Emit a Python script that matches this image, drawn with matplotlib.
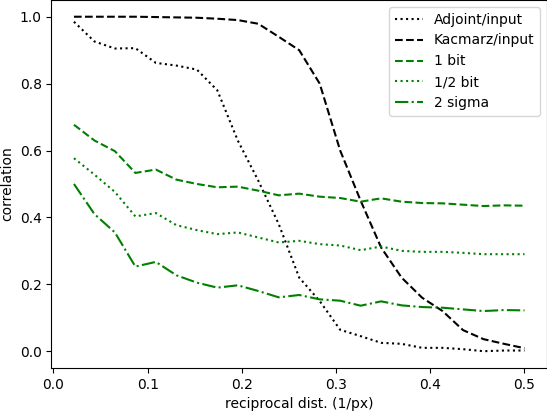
import numpy as np
import matplotlib
matplotlib.use("Agg")
import matplotlib.pyplot as plt

# reciprocal distance samples (1/px)
freq = np.arange(1, 24) / 46.0

adjoint = [0.985, 0.926, 0.905, 0.906, 0.862, 0.854, 0.842, 0.78, 0.63, 0.51,
           0.38, 0.22, 0.15, 0.064, 0.045, 0.025, 0.022, 0.01, 0.01, 0.006,
           0.0, 0.002, 0.002]
kacmarz = [1.0, 1.0, 1.0, 1.0, 0.999, 0.998, 0.997, 0.994, 0.99, 0.979,
           0.94, 0.90, 0.80, 0.60, 0.45, 0.31, 0.22, 0.16, 0.12, 0.063,
           0.036, 0.022, 0.009]
one_bit = [0.677, 0.63, 0.598, 0.533, 0.543, 0.513, 0.50, 0.49, 0.492, 0.48,
           0.466, 0.471, 0.462, 0.458, 0.447, 0.457, 0.447, 0.443, 0.442, 0.438,
           0.434, 0.436, 0.435]
half_bit = [0.577, 0.528, 0.476, 0.403, 0.413, 0.377, 0.362, 0.35, 0.355, 0.34,
            0.325, 0.33, 0.32, 0.316, 0.302, 0.313, 0.30, 0.297, 0.297, 0.294,
            0.29, 0.29, 0.29]
two_sigma = [0.50, 0.41, 0.355, 0.253, 0.267, 0.227, 0.205, 0.19, 0.197, 0.18,
             0.161, 0.168, 0.155, 0.151, 0.136, 0.149, 0.137, 0.132, 0.13, 0.125,
             0.12, 0.123, 0.122]

fig = plt.figure(figsize=(5.47, 4.12), dpi=100)
ax = fig.add_subplot(111)
fig.subplots_adjust(left=0.094, right=1.0, top=1.0, bottom=0.107)

ax.plot(freq, adjoint, 'k:', label='Adjoint/input')
ax.plot(freq, kacmarz, 'k--', label='Kacmarz/input')
ax.plot(freq, one_bit, 'g--', label='1 bit')
ax.plot(freq, half_bit, 'g:', label='1/2 bit')
ax.plot(freq, two_sigma, 'g-.', label='2 sigma')

ax.set_xlabel('reciprocal dist. (1/px)')
ax.set_ylabel('correlation')
ax.legend(loc='upper right')

fig.savefig('out.png', dpi=100)
